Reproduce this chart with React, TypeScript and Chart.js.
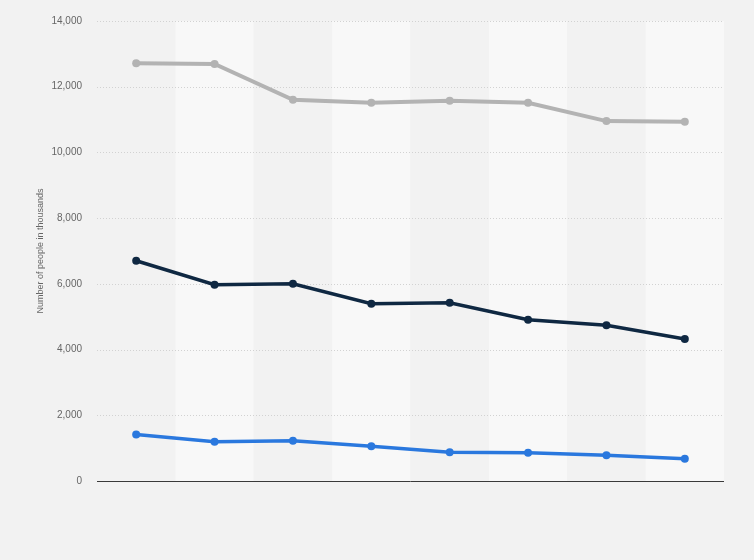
import React, { useEffect, useRef } from "react";
import { Chart, registerables } from "chart.js";

Chart.register(...registerables);

const categories = ["1", "2", "3", "4", "5", "6", "7", "8"];
const seriesGray = [12715, 12694, 11601, 11510, 11570, 11510, 10954, 10933];
const seriesNavy = [6702, 5974, 6004, 5397, 5427, 4911, 4737, 4321];
const seriesBlue = [1418, 1194, 1224, 1054, 872, 862, 780, 677];
const yTicks = [0, 2000, 4000, 6000, 8000, 10000, 12000, 14000];
const yTitle = "Number of people in thousands";

const bandPlugin = {
  id: "bands",
  beforeDatasetsDraw(chart: any) {
    const { ctx, chartArea, scales } = chart;
    const x = scales.x;
    const n = categories.length;
    const w = (chartArea.right - chartArea.left) / n;
    ctx.save();
    for (let i = 0; i < n; i++) {
      const c = x.getPixelForValue(i);
      ctx.fillStyle = i % 2 === 0 ? "#f2f2f2" : "#f8f8f8";
      ctx.fillRect(c - w / 2, chartArea.top, w, chartArea.bottom - chartArea.top);
    }
    ctx.restore();
  },
  beforeDraw(chart: any) {
    const { ctx, width, height } = chart;
    ctx.save();
    ctx.fillStyle = "#f2f2f2";
    ctx.fillRect(0, 0, width, height);
    ctx.restore();
  },
};

const gridPlugin = {
  id: "gridOver",
  beforeDatasetsDraw(chart: any) {
    const { ctx, chartArea, scales } = chart;
    const y = scales.y;
    ctx.save();
    ctx.strokeStyle = "#d2d2d2";
    ctx.lineWidth = 1;
    ctx.setLineDash([1, 2]);
    yTicks.forEach((v) => {
      if (v === 0) return;
      const py = Math.round(y.getPixelForValue(v)) + 0.5;
      ctx.beginPath();
      ctx.moveTo(chartArea.left, py);
      ctx.lineTo(chartArea.right, py);
      ctx.stroke();
    });
    ctx.setLineDash([]);
    ctx.strokeStyle = "#3a3a3a";
    const p0 = Math.round(y.getPixelForValue(0)) + 0.5;
    ctx.beginPath();
    ctx.moveTo(chartArea.left, p0);
    ctx.lineTo(chartArea.right, p0);
    ctx.stroke();
    ctx.restore();
  },
};

export default function App() {
  const ref = useRef<HTMLCanvasElement | null>(null);
  useEffect(() => {
    document.body.style.margin = "0";
    if (!ref.current) return;
    const mk = (label: string, data: number[], color: string, bw: number) => ({
      label,
      data,
      borderColor: color,
      backgroundColor: color,
      borderWidth: bw,
      pointRadius: 4,
      pointHoverRadius: 4,
      pointBorderWidth: 0,
      tension: 0,
      fill: false,
    });
    const chart = new Chart(ref.current, {
      type: "line",
      data: {
        labels: categories,
        datasets: [
          mk("Series 1", seriesGray, "#b3b3b3", 4),
          mk("Series 2", seriesNavy, "#0f2842", 3.5),
          mk("Series 3", seriesBlue, "#2a78de", 3.5),
        ],
      },
      plugins: [bandPlugin, gridPlugin],
      options: {
        animation: false,
        responsive: false,
        maintainAspectRatio: false,
        layout: { padding: { left: 35, right: 30, top: 20, bottom: 79 } },
        plugins: { legend: { display: false }, tooltip: { enabled: false } },
        scales: {
          x: {
            type: "category",
            offset: true,
            grid: { display: false, drawTicks: false },
            border: { display: false },
            ticks: { display: false },
            afterFit(s: any) {
              s.height = 0;
            },
          },
          y: {
            min: 0,
            max: 14000,
            afterBuildTicks(s: any) {
              s.ticks = yTicks.map((v) => ({ value: v }));
            },
            grid: { display: false, drawTicks: false },
            border: { display: false },
            ticks: {
              padding: 15,
              color: "#666666",
              font: { family: "'Liberation Sans', Arial, sans-serif", size: 10 },
              callback: (v: any) => Number(v).toLocaleString("en-US"),
            },
            title: {
              display: true,
              text: yTitle,
              color: "#666666",
              padding: 0,
              font: { family: "'Liberation Sans', Arial, sans-serif", size: 9 },
            },
            afterFit(s: any) {
              s.width = 62;
            },
          },
        },
      },
    });
    return () => chart.destroy();
  }, []);
  return (
    <div style={{ width: 754, height: 560, background: "#f2f2f2" }}>
      <canvas ref={ref} width={754} height={560} style={{ display: "block" }} />
    </div>
  );
}
